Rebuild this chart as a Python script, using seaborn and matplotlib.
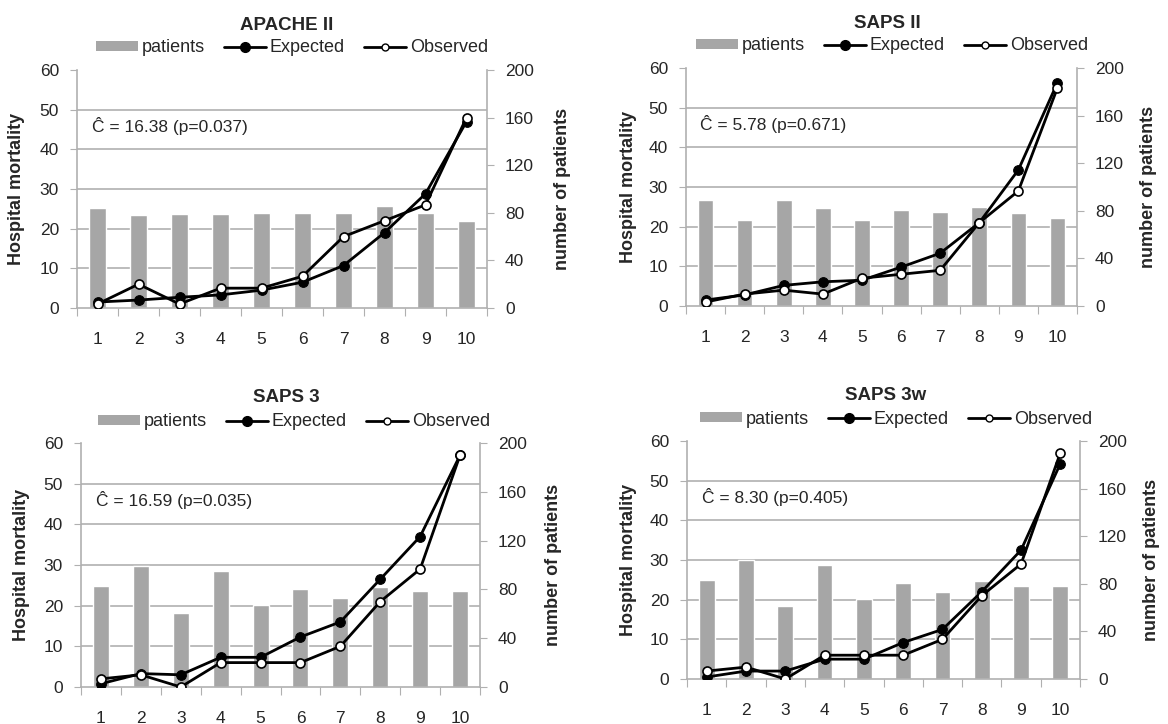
import numpy as np
import pandas as pd
import matplotlib
matplotlib.use("Agg")
import matplotlib.pyplot as plt
from matplotlib.lines import Line2D
from matplotlib.patches import Patch
import seaborn as sns

sns.set_style("white")
plt.rcParams['font.family'] = ['Liberation Sans', 'DejaVu Sans']

deciles = ["1", "2", "3", "4", "5", "6", "7", "8", "9", "10"]

titles = ["APACHE II", "SAPS II", "SAPS 3", "SAPS 3w"]
stats = ["Ĉ = 16.38 (p=0.037)", "Ĉ = 5.78 (p=0.671)",
         "Ĉ = 16.59 (p=0.035)", "Ĉ = 8.30 (p=0.405)"]

apache_patients = [84, 78, 79, 79, 80, 80, 80, 86, 80, 73]
apache_expected = [1.5, 2, 2.7, 3.3, 4.5, 6.5, 10.7, 19, 28.8, 47]
apache_observed = [1, 6, 1, 5, 5, 8, 18, 22, 26, 48]

saps2_patients = [89, 72, 89, 82, 72, 81, 79, 83, 78, 74]
saps2_expected = [1.5, 2.8, 5.2, 6.1, 6.5, 9.8, 13.3, 21, 34.3, 56.3]
saps2_observed = [1, 3, 4, 3, 7, 8, 9, 21, 29, 55]

saps3_patients = [83, 99, 61, 95, 67, 80, 73, 82, 79, 79]
saps3_expected = [0.8, 3.3, 3, 7.3, 7.3, 12.3, 16, 26.5, 37, 57]
saps3_observed = [2, 3, 0, 6, 6, 6, 10, 21, 29, 57]

saps3w_patients = [83, 100, 61, 96, 67, 81, 73, 82, 78, 78]
saps3w_expected = [0.5, 2, 2, 5, 5, 9.2, 12.5, 22, 32.5, 54.3]
saps3w_observed = [2, 3, 0, 6, 6, 6, 10, 21, 29, 57]

patients = [apache_patients, saps2_patients, saps3_patients, saps3w_patients]
expected = [apache_expected, saps2_expected, saps3_expected, saps3w_expected]
observed = [apache_observed, saps2_observed, saps3_observed, saps3w_observed]

BAR = "#a6a6a6"
GRID = "#b0b0b0"
TICK_FS = 12.5
LEG_FS = 13
LAB_FS = 13

W, H = 1168, 724
fig = plt.figure(figsize=(W / 100, H / 100), dpi=100)

# axes boxes in pixels (left, top, right, bottom), legend centre, title centre
boxes = [(77, 70, 487, 308), (686, 68, 1077, 306),
         (81, 443, 480, 687), (687, 441, 1080, 679)]
legend_xy = [(292, 48), (892, 46), (294, 422), (896, 419)]
title_xy = [(287, 25), (887, 23), (286, 397), (886, 395)]

for i, (l, t, r, b) in enumerate(boxes):
    ax_bar = fig.add_axes([l / W, 1 - b / H, (r - l) / W, (b - t) / H])
    df = pd.DataFrame({"decile": deciles, "patients": patients[i],
                       "Expected": expected[i], "Observed": observed[i]})

    sns.barplot(data=df, x="decile", y="patients", color=BAR, width=0.4,
                saturation=1, ax=ax_bar, zorder=2)

    ax_line = ax_bar.twinx()
    sns.lineplot(data=df, x="decile", y="Expected", color="black", lw=2,
                 marker="o", markersize=7, markerfacecolor="black",
                 markeredgecolor="black", ax=ax_line, zorder=3)
    sns.lineplot(data=df, x="decile", y="Observed", color="black", lw=2,
                 marker="o", markersize=6.5, markerfacecolor="white",
                 markeredgecolor="black", markeredgewidth=1.2, ax=ax_line, zorder=4)

    # right axis: number of patients
    ax_bar.set_ylim(0, 200)
    ax_bar.set_xlim(-0.5, 9.5)
    ax_bar.yaxis.tick_right()
    ax_bar.yaxis.set_label_position("right")
    ax_bar.set_yticks([0, 40, 80, 120, 160, 200])
    ax_bar.set_yticks(np.linspace(0, 200, 7), minor=True)
    ax_bar.grid(which="minor", axis="y", color=GRID, lw=1.2)
    ax_bar.grid(which="major", axis="y", visible=False)
    ax_bar.set_axisbelow(True)
    ax_bar.set_ylabel("number of patients", fontsize=LAB_FS, fontweight="bold")
    ax_bar.yaxis.label.set_va("center")
    ax_bar.yaxis.set_label_coords(1.183, 0.5)
    ax_bar.set_xlabel("")
    ax_bar.tick_params(axis="y", which="major", left=False, right=True, length=5,
                       color=GRID, labelsize=TICK_FS, pad=8)
    ax_bar.tick_params(axis="y", which="minor", left=False, right=False, length=0)
    ax_bar.set_xticks(np.arange(-0.5, 10, 1))
    ax_bar.set_xticklabels([])
    ax_bar.set_xticks(range(10), minor=True)
    ax_bar.set_xticklabels(deciles, minor=True)
    ax_bar.tick_params(axis="x", which="major", bottom=True, length=5.5, color=GRID)
    ax_bar.tick_params(axis="x", which="minor", bottom=True, length=0,
                       labelsize=TICK_FS, pad=17)
    for s in ["left", "right", "bottom"]:
        ax_bar.spines[s].set_color(GRID)
        ax_bar.spines[s].set_linewidth(1.2)
    ax_bar.spines["top"].set_visible(False)

    # left axis: hospital mortality
    ax_line.set_ylim(0, 60)
    ax_line.set_xlim(-0.5, 9.5)
    ax_line.yaxis.tick_left()
    ax_line.yaxis.set_label_position("left")
    ax_line.set_yticks([0, 10, 20, 30, 40, 50, 60])
    ax_line.tick_params(axis="y", left=True, right=False, length=5, color=GRID,
                        labelsize=TICK_FS, pad=8)
    ax_line.set_ylabel("Hospital mortality", fontsize=LAB_FS, fontweight="bold")
    ax_line.yaxis.label.set_va("center")
    ax_line.yaxis.set_label_coords(-0.148, 0.5)
    ax_line.set_xlabel("")
    for s in ax_line.spines.values():
        s.set_visible(False)

    ax_line.text(0.037, 0.765, stats[i], transform=ax_line.transAxes,
                 fontsize=12.5, va="center", ha="left")

    handles = [Patch(facecolor=BAR, edgecolor="none"),
               Line2D([], [], color="black", lw=2, marker="o", markersize=7,
                      markerfacecolor="black"),
               Line2D([], [], color="black", lw=2, marker="o", markersize=5,
                      markerfacecolor="white")]
    lx, ly = legend_xy[i]
    ax_line.legend(handles, ["patients", "Expected", "Observed"], ncol=3,
                   loc="center", bbox_to_anchor=(lx / W, 1 - ly / H),
                   bbox_transform=fig.transFigure, frameon=False,
                   fontsize=LEG_FS, handlelength=2.3, handleheight=0.5,
                   handletextpad=0.2, columnspacing=1.1, borderpad=0)
    tx, ty = title_xy[i]
    fig.text(tx / W, 1 - ty / H, titles[i], fontsize=13.5, fontweight="bold",
             ha="center", va="center")

fig.savefig("out.png", dpi=100)
